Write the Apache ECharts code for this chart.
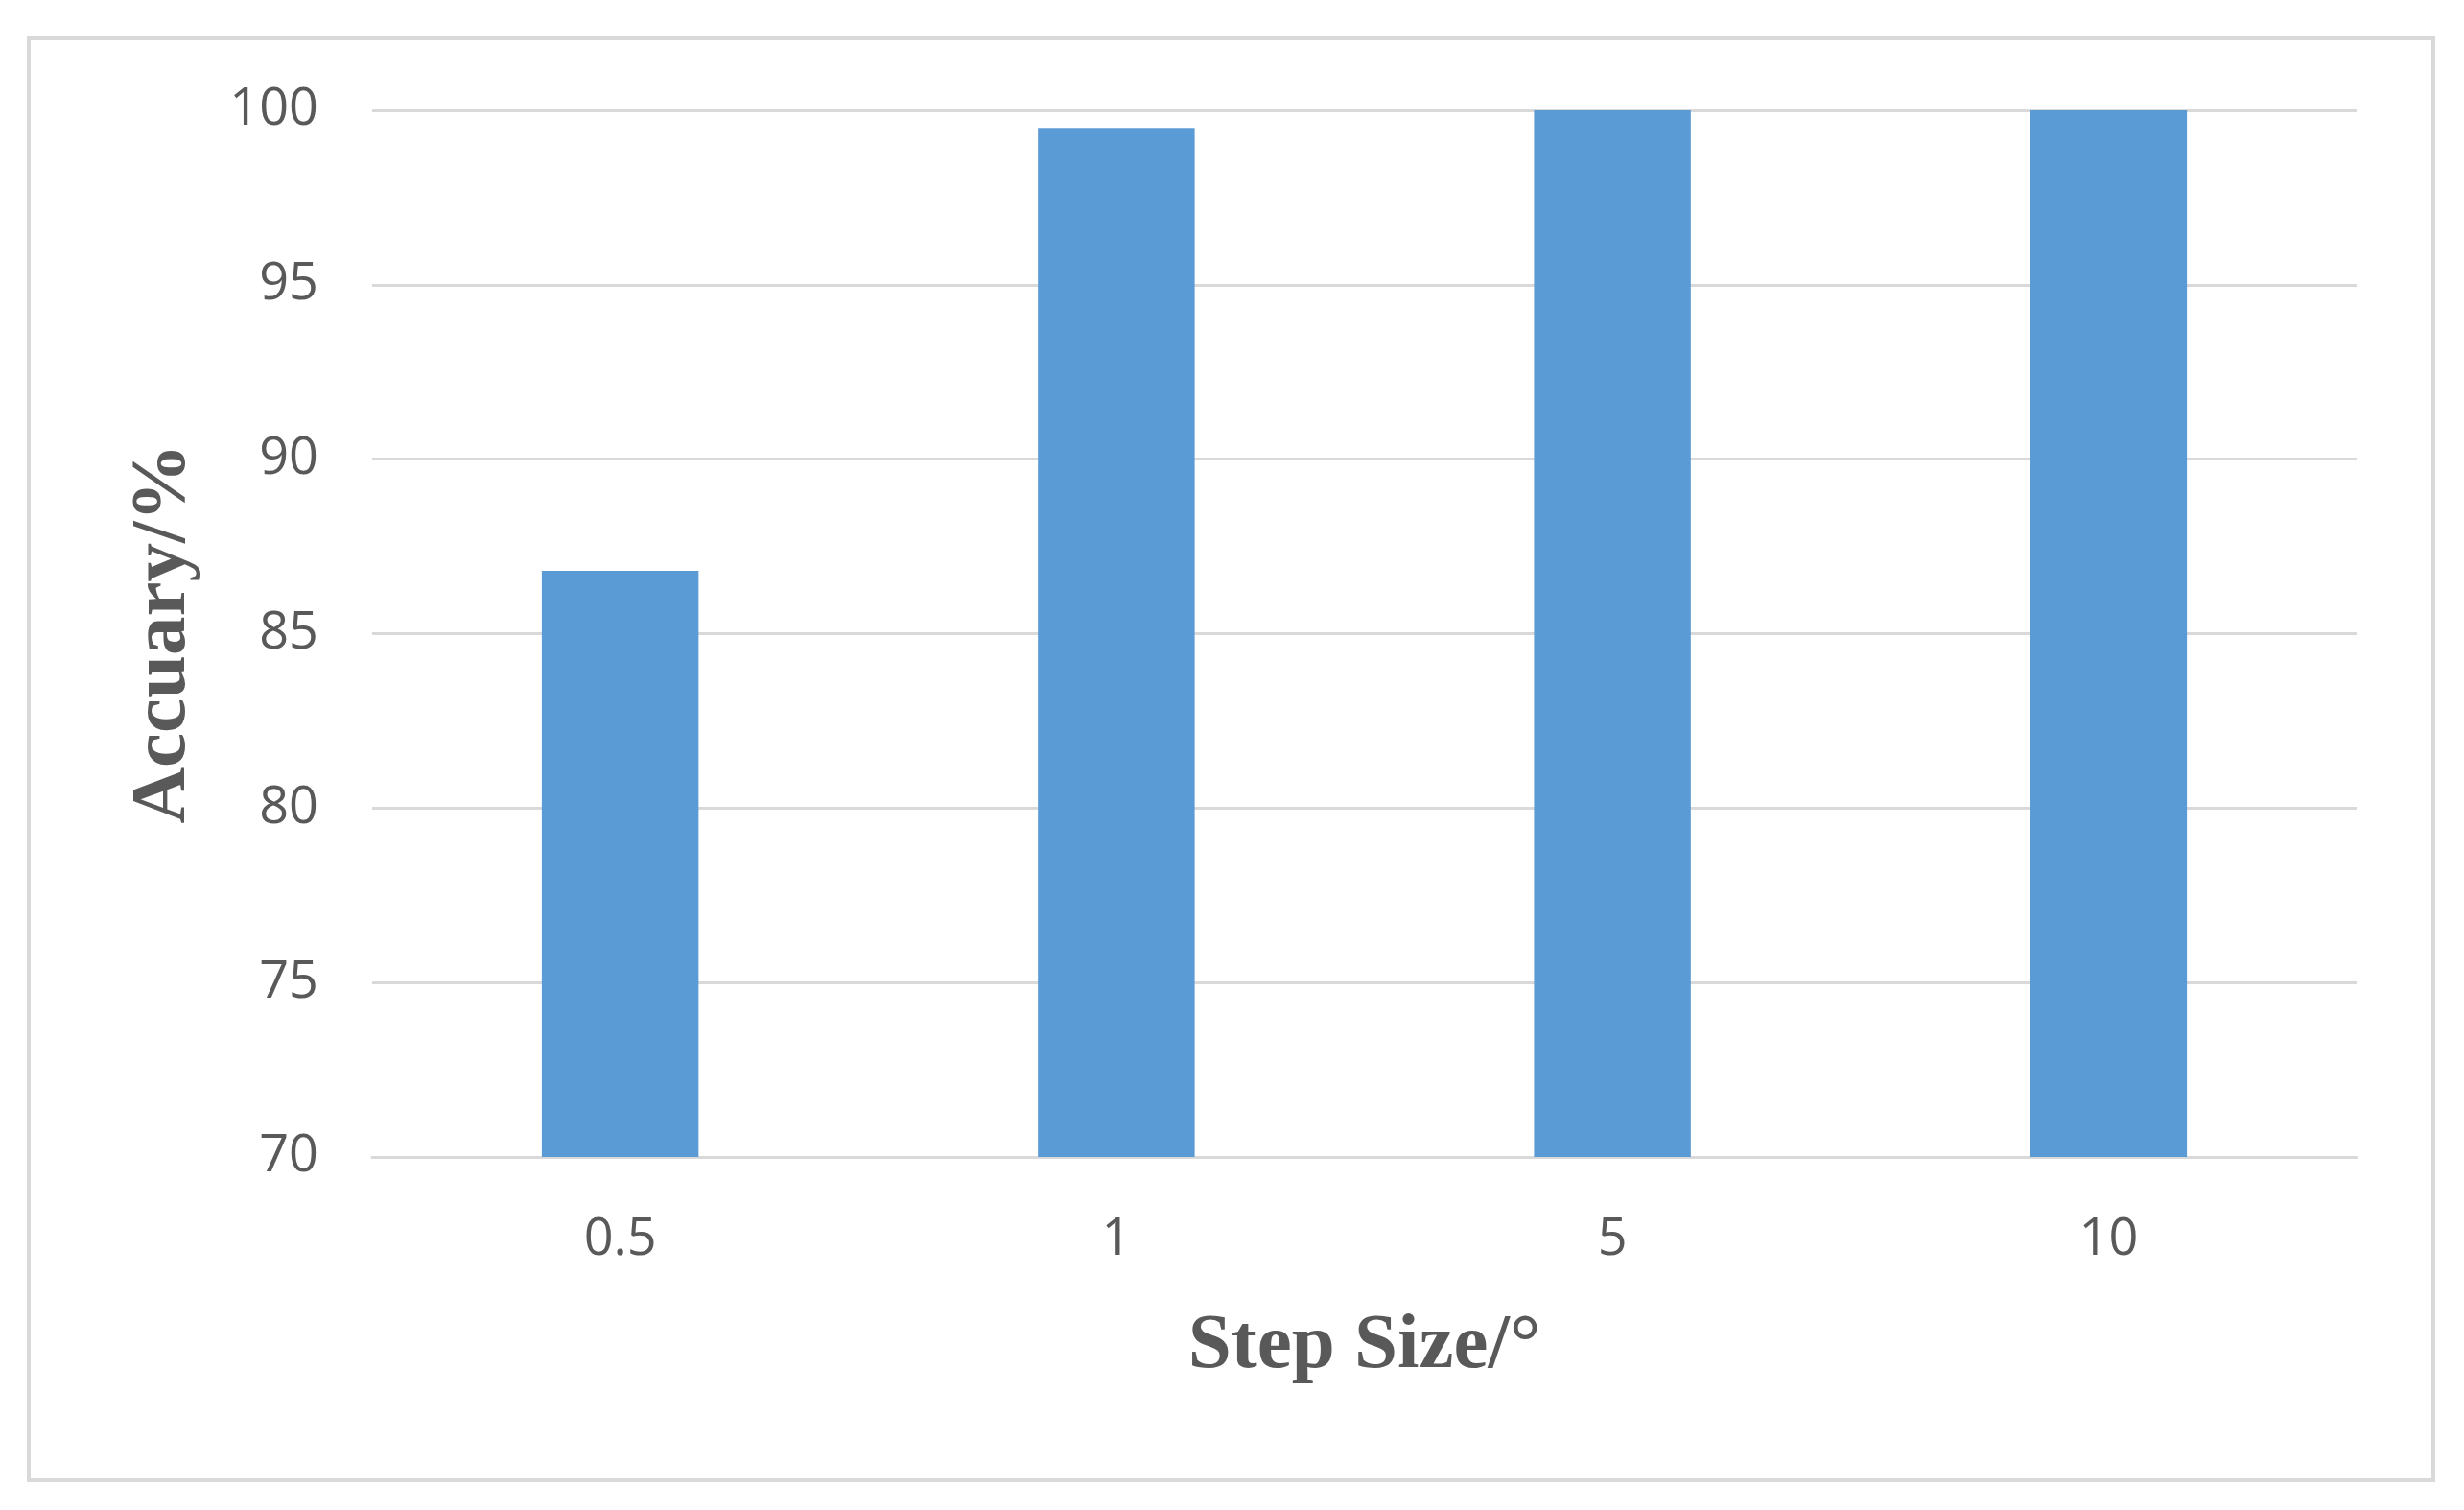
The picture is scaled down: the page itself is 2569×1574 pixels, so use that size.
<!DOCTYPE html>
<html>
<head>
<meta charset="utf-8">
<script src="https://cdn.jsdelivr.net/npm/echarts@6/dist/echarts.min.js"></script>
<style>
  html, body { margin: 0; padding: 0; background: #fff; }
  #chart { width: 2569px; height: 1574px; }
</style>
</head>
<body>
<div id="chart"></div>
<script>
const stepSizes = ["0.5", "1", "5", "10"];
const accuracy = [86.8, 99.5, 100, 100];
const yMin = 70;
const yMax = 100;
const yStep = 5;

const chart = echarts.init(document.getElementById("chart"));

const labelFont = { color: "#595959", fontFamily: "Open Sans", fontSize: 54 };
const nameFont = { color: "#595959", fontFamily: "Liberation Serif", fontWeight: "bold", fontSize: 81 };

const option = {
  backgroundColor: "#ffffff",
  animation: false,
  graphic: [
    {
      type: "rect",
      shape: { x: 30, y: 40, width: 2507, height: 1503 },
      style: { fill: "none", stroke: "#d9d9d9", lineWidth: 4 },
      silent: true
    }
  ],
  grid: { left: 388, right: 112, top: 115, height: 1091 },
  xAxis: {
    type: "category",
    data: stepSizes,
    name: "Step Size/°",
    nameLocation: "middle",
    nameGap: 158,
    nameTextStyle: nameFont,
    axisLine: { lineStyle: { color: "#d9d9d9", width: 3 } },
    axisTick: { show: false },
    axisLabel: { ...labelFont, margin: 60 }
  },
  yAxis: {
    type: "value",
    min: yMin,
    max: yMax,
    interval: yStep,
    name: "Accuary/%",
    nameLocation: "middle",
    nameGap: 176,
    nameRotate: 90,
    nameTextStyle: nameFont,
    axisLine: { show: false },
    axisTick: { show: false },
    axisLabel: { ...labelFont, margin: 56 },
    splitLine: { lineStyle: { color: "#d9d9d9", width: 3 } }
  },
  series: [
    {
      type: "bar",
      data: accuracy,
      barWidth: "31.6%",
      itemStyle: { color: "#5b9bd5" }
    }
  ]
};

chart.setOption(option);
</script>
</body>
</html>
